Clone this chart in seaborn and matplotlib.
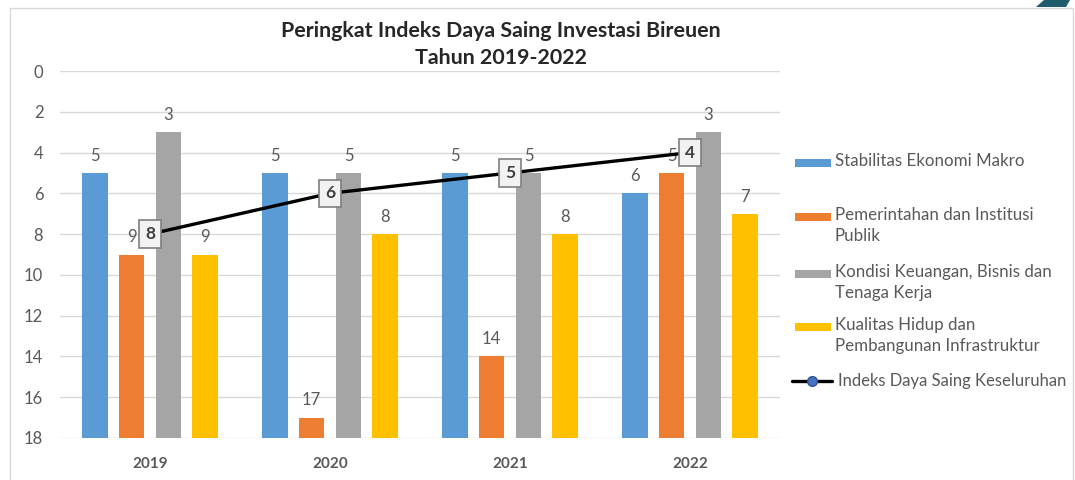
import seaborn as sns
import pandas as pd
import matplotlib.pyplot as plt
from matplotlib.patches import Rectangle, Polygon
from matplotlib.lines import Line2D

years = ['2019', '2020', '2021', '2022']
stabilitas = [5, 5, 5, 6]
pemerintahan = [9, 17, 14, 5]
kondisi = [3, 5, 5, 3]
kualitas = [9, 8, 8, 7]
keseluruhan = [8, 6, 5, 4]

series_names = ['Stabilitas Ekonomi Makro',
                'Pemerintahan dan Institusi\nPublik',
                'Kondisi Keuangan, Bisnis dan\nTenaga Kerja',
                'Kualitas Hidup dan\nPembangunan Infrastruktur']
line_name = 'Indeks Daya Saing Keseluruhan'
colors = ['#5B9BD5', '#ED7D31', '#A5A5A5', '#FFC000']
BASE = 18

df = pd.DataFrame({
    'Tahun': years * 4,
    'Aspek': [n for n in series_names for _ in years],
    'Peringkat': stabilitas + pemerintahan + kondisi + kualitas,
})
df['Tinggi'] = df['Peringkat'] - BASE

sns.set_theme(style='white')
plt.rcParams['font.family'] = ['Lato', 'DejaVu Sans']

fig = plt.figure(figsize=(10.75, 4.8), dpi=100)
ax = fig.add_axes([60 / 1075, 1 - 438 / 480, 720 / 1075, 367 / 480])

sns.barplot(data=df, x='Tahun', y='Tinggi', hue='Aspek', palette=colors,
            width=0.82, gap=0.3, bottom=BASE, ax=ax, legend=False,
            saturation=1, edgecolor='none', zorder=2)

# bar value labels
step = 0.82 / 4
for j, vals in enumerate([stabilitas, pemerintahan, kondisi, kualitas]):
    for i, v in enumerate(vals):
        ax.text(i + (j - 1.5) * step, v - 0.45, str(v), ha='center', va='bottom',
                fontsize=12, color='#595959', zorder=3)

# overall line
sns.lineplot(x=list(range(len(years))), y=keseluruhan, color='black', linewidth=2.4,
             marker='o', markersize=7, markerfacecolor='#4472C4', markeredgecolor='#2F528F',
             ax=ax, zorder=4)
for i, v in enumerate(keseluruhan):
    ax.text(i, v, str(v), ha='center', va='center', fontsize=12.5, color='#404040',
            fontweight='bold', zorder=5,
            bbox=dict(boxstyle='square,pad=0.33', facecolor='#F2F2F2', edgecolor='#7F7F7F', linewidth=1.2))

ax.set_ylim(BASE, 0)
ax.set_xlim(-0.5, 3.5)
ax.set_yticks(range(0, 19, 2))
ax.grid(axis='y', color='#D9D9D9', linewidth=1, zorder=0)
ax.set_axisbelow(True)
for s in ax.spines.values():
    s.set_visible(False)
ax.set_xlabel('')
ax.set_ylabel('')
ax.tick_params(axis='y', labelsize=12, colors='#595959', length=0, pad=12)
ax.tick_params(axis='x', labelsize=11, colors='#595959', length=0, pad=14)
for lab in ax.get_xticklabels():
    lab.set_fontweight('bold')

# title
fig.text(501 / 1075, 1 - 31 / 480, 'Peringkat Indeks Daya Saing Investasi Bireuen',
         ha='center', va='center', fontsize=15.4, fontweight='bold', color='#262626')
fig.text(501 / 1075, 1 - 58 / 480, 'Tahun 2019-2022',
         ha='center', va='center', fontsize=15.4, fontweight='bold', color='#262626')

# legend
legend_y = [163, 217, 274, 327]
for name, c, y in zip(series_names, colors, legend_y):
    fig.patches.append(Rectangle((795 / 1075, 1 - (y + 4) / 480), 36 / 1075, 8 / 480,
                                 transform=fig.transFigure, facecolor=c, edgecolor='none'))
    fig.text(835 / 1075, 1 - (y - 10) / 480, name, ha='left', va='top', fontsize=12.2,
             color='#595959', linespacing=1.4)
fig.lines.append(Line2D([792 / 1075, 832 / 1075], [1 - 381 / 480] * 2, transform=fig.transFigure,
                        color='black', linewidth=2.4))
fig.lines.append(Line2D([812 / 1075], [1 - 381 / 480], transform=fig.transFigure,
                        marker='o', markersize=7, markerfacecolor='#4472C4',
                        markeredgecolor='#2F528F', linestyle='none'))
fig.text(838 / 1075, 1 - 381 / 480, line_name, ha='left', va='center', fontsize=12,
         color='#595959')

# chart border and corner decoration
fig.patches.append(Rectangle((10 / 1075, -0.05), 1063 / 1075, 1.05 - 8 / 480,
                             transform=fig.transFigure, facecolor='none',
                             edgecolor='#D9D9D9', linewidth=1))
fig.patches.append(Polygon([(1036 / 1075, 1 - 7 / 480), (1044 / 1075, 1.0), (1070 / 1075, 1.0),
                            (1066 / 1075, 1 - 7 / 480)], closed=True, transform=fig.transFigure,
                           facecolor='#1F5C6E', edgecolor='none'))

fig.savefig('out.png', dpi=100, facecolor='white')
